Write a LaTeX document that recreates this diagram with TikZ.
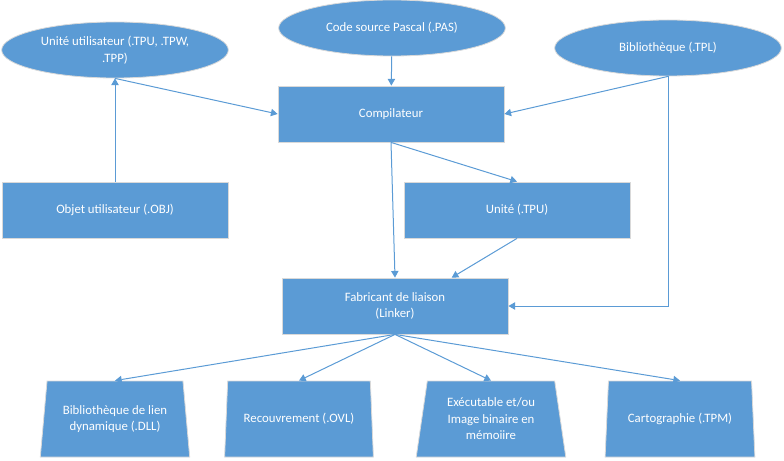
\documentclass[tikz,border=0pt]{standalone}
\usepackage{fontspec}
\setmainfont{Carlito}
\usetikzlibrary{arrows.meta}
\usetikzlibrary{shapes.geometric}
\usetikzlibrary{calc}
\definecolor{officeblue}{HTML}{5B9BD5}
\tikzset{box/.style={rectangle, draw=black!15, fill=officeblue, text=white, line width=0.6pt,
      minimum width=169.5pt, minimum height=42pt, align=center, inner sep=1pt,
      font=\fontsize{9.6}{12.4}\selectfont}}
\tikzset{oval/.style={box, ellipse, minimum width=170pt, minimum height=42pt}}
\tikzset{sortie/.style={box, trapezium, trapezium stretches=true, trapezium left angle=80,
      trapezium right angle=80, minimum width=112.5pt, minimum height=57pt}}
\tikzset{fl/.style={draw=officeblue, line width=0.75pt, -{Triangle[length=5pt,width=5.5pt]}}}

\begin{document}
\begin{tikzpicture}[x=0.75pt, y=-0.75pt]
		\useasboundingbox (0,0) rectangle (784,460);
		% sources
		\node[oval] (uu) at (115,50) {Unité utilisateur (.TPU, .TPW,\\.TPP)};
		\node[oval] (src) at (392,28) {Code source Pascal (.PAS)};
		\node[oval] (bib) at (668,48) {Bibliothèque (.TPL)};
		% etapes
		\node[box] (comp) at (391,114) {Compilateur};
		\node[box] (obj) at (115,210) {Objet utilisateur (.OBJ)};
		\node[box] (tpu) at (517,210) {Unité (.TPU)};
		\node[box] (fab) at (395,306) {Fabricant de liaison\\(Linker)};
		% resultats
		\node[sortie] (dll) at (115,419) {Bibliothèque de lien\\dynamique (.DLL)};
		\node[sortie] (ovl) at (299,419) {Recouvrement (.OVL)};
		\node[sortie] (exe) at (491,419) {Exécutable et/ou\\Image binaire en\\mémoiire};
		\node[sortie] (tpm) at (680,419) {Cartographie (.TPM)};
		% fleches
		\draw[fl] (obj) -- (uu);
		\draw[fl] (uu.south) -- (comp.west);
		\draw[fl] (src) -- (comp);
		\draw[fl] (bib.south) -- (comp.east);
		\draw[fl] (bib.south) |- (fab.east);
		\draw[fl] (comp.south) -- (fab.north);
		\draw[fl] (comp.south) -- (tpu.north);
		\draw[fl] (tpu.south) -- ($(fab.north)!0.5!(fab.north east)$);
		\foreach \res in {dll,ovl,exe,tpm}
			\draw[fl] (fab.south) -- (\res.north);
\end{tikzpicture}
\end{document}
